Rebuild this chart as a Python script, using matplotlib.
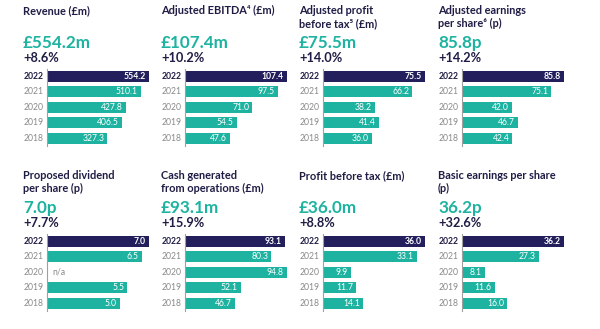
import numpy as np
import matplotlib
matplotlib.use('Agg')
import matplotlib.pyplot as plt

plt.rcParams['font.family'] = ['Lato', 'DejaVu Sans']

years = ['2022', '2021', '2020', '2019', '2018']

titles = ['Revenue (£m)', 'Adjusted EBITDA\u2074 (£m)', 'Adjusted profit\nbefore tax\u2075 (£m)',
          'Adjusted earnings\nper share\u2076 (p)',
          'Proposed dividend\nper share (p)', 'Cash generated\nfrom operations (£m)',
          'Profit before tax (£m)', 'Basic earnings per share\n(p)']
headline = ['£554.2m', '£107.4m', '£75.5m', '85.8p', '7.0p', '£93.1m', '£36.0m', '36.2p']
change = ['+8.6%', '+10.2%', '+14.0%', '+14.2%', '+7.7%', '+15.9%', '+8.8%', '+32.6%']

revenue = [554.2, 510.1, 427.8, 406.5, 327.3]
ebitda = [107.4, 97.5, 71.0, 54.5, 47.6]
adj_pbt = [75.5, 66.2, 38.2, 41.4, 36.0]
adj_eps = [85.8, 75.1, 42.0, 46.7, 42.4]
dividend = [7.0, 6.5, np.nan, 5.5, 5.0]
cash = [93.1, 80.3, 94.8, 52.1, 46.7]
pbt = [36.0, 33.1, 9.9, 11.7, 14.1]
basic_eps = [36.2, 27.3, 8.1, 11.6, 16.0]

series = [revenue, ebitda, adj_pbt, adj_eps, dividend, cash, pbt, basic_eps]

navy = '#231f5c'
teal = '#1db3a0'
ink = '#1f1d45'
grey = '#8a8a8a'

W, H = 600, 329
fig = plt.figure(figsize=(6, 3.29), dpi=100)
fig.patch.set_facecolor('white')


def fx(x):
    return x / W


def fy(y):
    return 1 - y / H


axis_left = [47, 185, 323, 462]
row_top = [0, 165]

for i, vals in enumerate(series):
    r, c = divmod(i, 4)
    x0 = axis_left[c]
    oy = row_top[r]
    # axes covering the five bar rows
    ax = fig.add_axes([fx(x0), fy(oy + 146), 102 / W, 77.5 / H])
    v = np.array(vals, dtype=float)
    vmax = np.nanmax(v)
    pos = np.arange(len(years))
    colors = [navy] + [teal] * (len(years) - 1)
    ax.barh(pos, np.nan_to_num(v), height=0.72, color=colors)
    ax.set_xlim(0, vmax)
    ax.set_ylim(len(years) - 0.5, -0.5)
    ax.set_xticks([])
    ax.set_yticks([])
    for s in ['top', 'right', 'bottom']:
        ax.spines[s].set_visible(False)
    ax.spines['left'].set_color('#a0a0a0')
    ax.spines['left'].set_linewidth(0.8)
    ax.patch.set_alpha(0)
    for j, yv in enumerate(v):
        bold = j == 0
        ax.text(-0.03 * vmax, j, years[j], ha='right', va='center', fontsize=6.2,
                color=ink if bold else grey, fontweight='bold' if bold else 'normal')
        if np.isnan(yv):
            ax.text(0.05 * vmax, j, 'n/a', ha='left', va='center', fontsize=6.2, color=grey)
        else:
            ax.text(yv - 0.03 * vmax, j, f'{yv:.1f}', ha='right', va='center', fontsize=6.2,
                    color='white', fontweight='bold' if bold else 'normal')

    tx = x0 - 24
    fig.text(fx(tx), fy(oy + 5), titles[i], ha='left', va='top', fontsize=7.9,
             fontweight='bold', color=ink, linespacing=1.2)
    fig.text(fx(tx), fy(oy + 43), headline[i], ha='left', va='center', fontsize=12.3,
             fontweight='bold', color=teal)
    fig.text(fx(tx), fy(oy + 58), change[i], ha='left', va='center', fontsize=9.2,
             fontweight='bold', color=ink)

fig.savefig('out.png', dpi=100, facecolor='white')
